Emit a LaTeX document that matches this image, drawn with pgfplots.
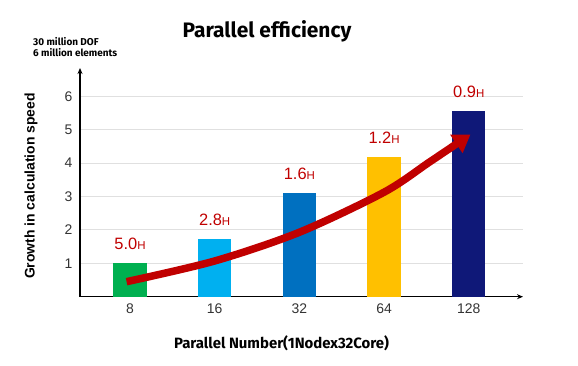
\documentclass[border=0pt]{standalone}
\usepackage{pgfplots}
\pgfplotsset{compat=1.18}
\usepackage{fontspec}
\setmainfont{Liberation Sans}
\newfontfamily\headfont{Fira Sans}
\usetikzlibrary{arrows.meta}
\definecolor{cgreen}{HTML}{00B050}
\definecolor{clblue}{HTML}{00B0F0}
\definecolor{cblue}{HTML}{0070C0}
\definecolor{cyellow}{HTML}{FFC000}
\definecolor{cnavy}{HTML}{0F1878}
\definecolor{cred}{HTML}{C00000}
\begin{document}
\begin{tikzpicture}
\useasboundingbox (-80bp,-69.3bp) rectangle (498bp,296.7bp);
\begin{axis}[
  scale only axis, width=443bp, height=228.7bp,
  xmin=-0.59, xmax=4.64, ymin=0, ymax=6.85,
  axis lines=left,
  axis line style={line width=1.5bp, black, -{Stealth[length=6bp,width=5bp]}},
  xtick={0,...,4}, xticklabels={8,16,32,64,128},
  ytick={1,...,6},
  /pgf/number format/assume math mode=true,
  major tick length=0pt,
  ymajorgrids, major grid style={line width=1bp, color=black!12},
  tick label style={font=\fontsize{14}{14}\selectfont, color=black!80},
  yticklabel style={xshift=-4bp},
  xticklabel style={yshift=-4bp},
  bar width=33.4bp,
  lbl/.style={ybar, bar shift=0pt, draw=none, point meta=explicit symbolic,
    nodes near coords={\pgfplotspointmeta{\fontsize{11.5}{11.5}\selectfont H}},
    every node near coord/.append style={font=\fontsize{16.5}{16.5}\selectfont, color=cred, anchor=south, inner sep=0pt, yshift=13bp}},
]
\addplot[lbl, fill=cgreen] coordinates {(0,1.0) [5.0]};
\addplot[lbl, fill=clblue] coordinates {(1,1.72) [2.8]};
\addplot[lbl, fill=cblue] coordinates {(2,3.10) [1.6]};
\addplot[lbl, fill=cyellow] coordinates {(3,4.18) [1.2]};
\addplot[lbl, fill=cnavy] coordinates {(4,5.56) [0.9]};
\addplot[smooth, no markers, draw=cred, line width=7.5bp, -{Triangle[length=17bp,width=21bp]}]
  coordinates {(-0.04,0.45) (1,1.07) (2,1.93) (3,3.13) (3.54,4.04) (4.02,4.86)};
\end{axis}
\node[anchor=base, font=\headfont\bfseries\fontsize{21}{21}\selectfont] at (187bp,259bp) {Parallel efficiency};
\node[anchor=base west, font=\headfont\bfseries\fontsize{10}{10}\selectfont, inner sep=0pt] at (-47bp,250.7bp) {30 million DOF};
\node[anchor=base west, font=\headfont\bfseries\fontsize{10}{10}\selectfont, inner sep=0pt] at (-47bp,240bp) {6 million elements};
\node[rotate=90, anchor=center, font=\bfseries\fontsize{14}{14}\selectfont] at (-49bp,110.7bp) {Growth in calculation speed};
\node[anchor=base, font=\headfont\bfseries\fontsize{15}{15}\selectfont] at (201.5bp,-51.6bp) {Parallel Number(1Nodex32Core)};
\end{tikzpicture}
\end{document}
